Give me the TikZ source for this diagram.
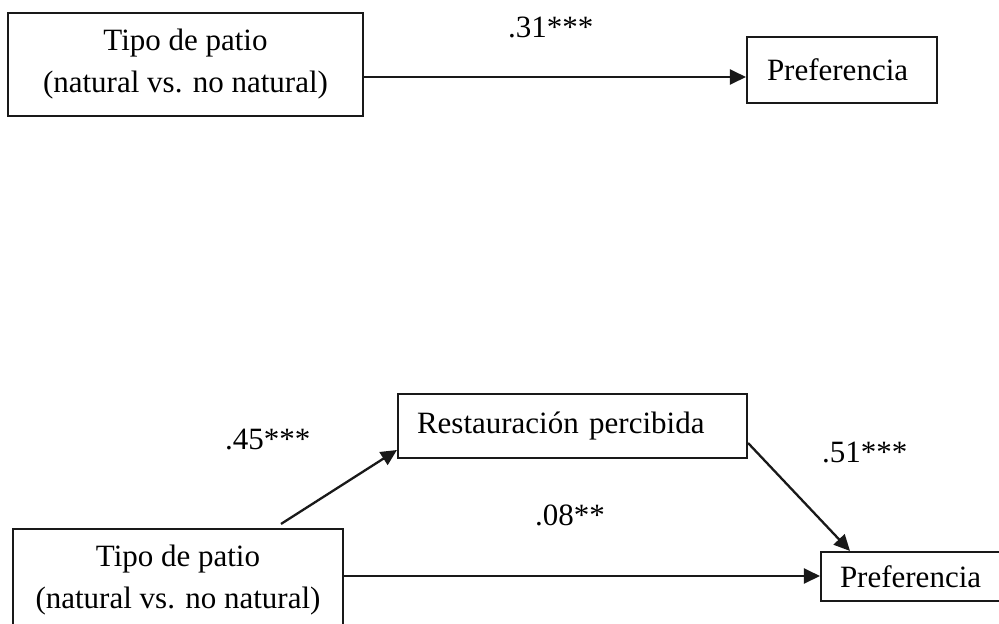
\documentclass[tikz,border=0pt]{standalone}
\usepackage{fontspec}
\setmainfont{Liberation Serif}
\usetikzlibrary{arrows.meta}
\begin{document}
\begin{tikzpicture}[x=1pt,y=-1pt,
  font=\fontsize{31}{42}\selectfont,
  varbox/.style={draw=black!90, line width=2.1pt, rectangle, inner sep=0pt, text=black},
  leftbox/.style={varbox, align=left, inner xsep=19pt},
  conn/.style={line width=2.3pt, draw=black!90, -{Triangle[length=16pt,width=15pt]}},
  coef/.style={anchor=base west, inner sep=0pt}]
\useasboundingbox (0,0) rectangle (999,624);
\clip (0,0) rectangle (999,624);

% Total effect
\node[varbox, minimum width=355pt, minimum height=103pt, align=center] (tipoA) at (185.5,64.5)
  {Tipo de patio\\(natural vs. no natural)};
\node[leftbox, text width=150pt, minimum height=66pt, inner xsep=20pt] (prefA) at (842,70) {Preferencia};
\draw[conn] ([yshift=-12.5pt]tipoA.east) -- ([yshift=-12.5pt]tipoA.east -| prefA.west);
\node[coef] (cA) at (508,37) {.31***};

% Mediated model
\node[varbox, minimum width=330pt, minimum height=103pt, align=center] (tipoB) at (178,580.5)
  {Tipo de patio\\(natural vs. no natural)};
\node[leftbox, text width=311pt, minimum height=64pt] (rest) at (572.5,426) {Restauración percibida};
\node[leftbox, text width=144pt, minimum height=49pt] (prefB) at (912,576.5) {Preferencia};

\draw[conn] ([shift={(103,-4)}]tipoB.north) -- ([yshift=-24pt]rest.west);
\draw[conn] ([yshift=-17pt]rest.east) -- ([xshift=-62pt]prefB.north);
\draw[conn] ([yshift=4.5pt]tipoB.east) -- ([yshift=4.5pt]tipoB.east -| prefB.west);

\node[coef] (cB) at (225,449) {.45***};
\node[coef] (cC) at (822,462) {.51***};
\node[coef] (cD) at (535,525) {.08**};
\end{tikzpicture}
\end{document}
